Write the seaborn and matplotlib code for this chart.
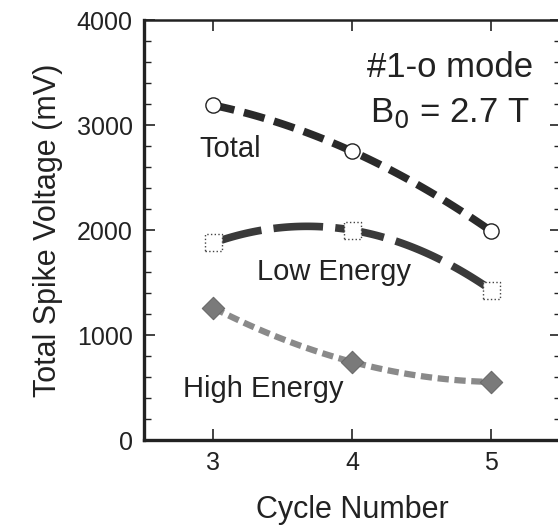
import matplotlib
matplotlib.use("Agg")
import matplotlib.pyplot as plt
import seaborn as sns
import pandas as pd

# values
cycles = [3, 4, 5]
total = [3190, 2750, 1990]
low_energy = [1880, 2000, 1430]
high_energy = [1260, 745, 555]

sns.set_style("ticks")
plt.rcParams['font.family'] = ['Liberation Sans', 'DejaVu Sans']

fig = plt.figure(figsize=(5.58, 5.31), dpi=100)
ax = fig.add_axes([0.258, 0.171, 0.747, 0.791])

df = pd.DataFrame({'cycle': cycles, 'total': total,
                   'low': low_energy, 'high': high_energy})

# fitted curves through the points (quadratic, as drawn in the figure)
sns.regplot(data=df, x='cycle', y='total', order=2, ci=None, scatter=False, ax=ax,
            line_kws=dict(color='#2a2a2a', lw=5.5, dashes=(2.8, 1.3), zorder=2))
sns.regplot(data=df, x='cycle', y='low', order=2, ci=None, scatter=False, ax=ax,
            line_kws=dict(color='#3a3a3a', lw=5.5, dashes=(6.5, 1.6), zorder=2))
sns.regplot(data=df, x='cycle', y='high', order=2, ci=None, scatter=False, ax=ax,
            line_kws=dict(color='#8a8a8a', lw=4.5, dashes=(1.8, 0.9), zorder=2))

sns.scatterplot(data=df, x='cycle', y='total', marker='o', s=120, facecolor='white',
                edgecolor='#222222', linewidth=1.0, ax=ax, zorder=3)
sns.scatterplot(data=df, x='cycle', y='low', marker='s', s=150, facecolor='white',
                edgecolor='#444444', linewidth=1.0, linestyle=':', ax=ax, zorder=3)
sns.scatterplot(data=df, x='cycle', y='high', marker='D', s=130, color='#7a7a7a',
                edgecolor='#6a6a6a', linewidth=0.8, ax=ax, zorder=3)

ax.set_xlim(2.5, 5.5)
ax.set_ylim(0, 4000)
ax.set_xticks([3, 4, 5])
ax.set_yticks([0, 1000, 2000, 3000, 4000])
ax.set_yticks(range(0, 4001, 200), minor=True)
ax.tick_params(which='both', direction='in', top=True, right=True,
               labelsize=18, colors='#222222', labelcolor='#222222')
ax.tick_params(which='major', length=8, width=1.2, pad=8)
ax.tick_params(which='minor', length=5, width=1.0)
ax.tick_params(axis='x', which='minor', top=False, bottom=False)

for side, w in [('left', 2.4), ('bottom', 2.4), ('top', 1.8), ('right', 1.8)]:
    ax.spines[side].set_linewidth(w)
    ax.spines[side].set_color('#222222')

ax.set_xlabel('Cycle Number', fontsize=22, color='#222222', labelpad=14)
ax.set_ylabel('Total Spike Voltage (mV)', fontsize=22, color='#222222', labelpad=10)

txt = dict(fontsize=21, color='#222222')
ax.text(2.9, 2770, 'Total', va='center', ha='left', **txt)
ax.text(3.31, 1600, 'Low Energy', va='center', ha='left', **txt)
ax.text(2.78, 490, 'High Energy', va='center', ha='left', **txt)
ax.text(4.7, 3545, '#1-o mode', va='center', ha='center', fontsize=25, color='#222222')
ax.text(4.7, 3110, 'B$_0$ = 2.7 T', va='center', ha='center', fontsize=25, color='#222222')

fig.savefig('out.png', dpi=100)
